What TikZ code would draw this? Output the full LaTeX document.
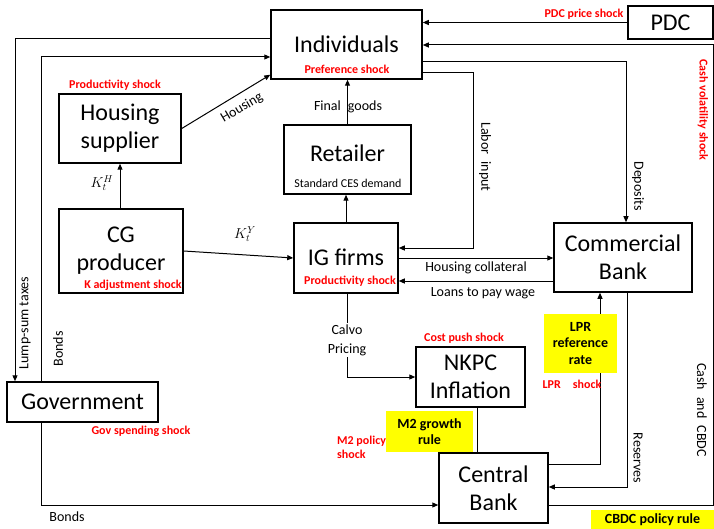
\documentclass[tikz,border=0pt]{standalone}
\usepackage{fontspec}
\setmainfont{Carlito}
\usetikzlibrary{arrows.meta,calc}
\definecolor{shockred}{RGB}{255,0,0}
\definecolor{hiyellow}{RGB}{255,255,0}
\tikzset{
  box/.style={draw,line width=1.5pt,align=center,inner sep=0pt,font=\fontsize{24}{28}\selectfont},
  conn/.style={line width=1pt},
  arr/.style={conn,-{Triangle[length=6pt,width=5pt]}},
  lbl/.style={font=\fontsize{14}{16}\selectfont,inner sep=1pt},
  small/.style={font=\fontsize{12}{14}\selectfont,inner sep=1pt},
  shock/.style={text=shockred,font=\fontsize{12}{14}\selectfont\bfseries,inner sep=1pt},
  ybox/.style={fill=hiyellow,align=center,inner sep=0pt,font=\fontsize{14}{16.5}\selectfont\bfseries}
}
\begin{document}
\begin{tikzpicture}[x=1pt,y=-1pt]
\useasboundingbox[fill=white] (0,0) rectangle (714,529);

% boxes
\node[box,minimum width=151pt,minimum height=69pt] (ind) at (346.5,44.5) {Individuals};
\node[box,minimum width=85pt,minimum height=33pt] (pdc) at (670.5,22.5) {PDC};
\node[box,minimum width=122pt,minimum height=69pt] (hs) at (120,128.5) {Housing\\supplier};
\node[box,minimum width=127pt,minimum height=69pt] (ret) at (347.5,159.5) {};
\node[box,minimum width=124pt,minimum height=84pt] (cg) at (121,251) {CG\\producer};
\node[box,minimum width=104pt,minimum height=70pt] (ig) at (346,258) {};
\node[box,minimum width=138pt,minimum height=69pt] (cb) at (623,257.5) {Commercial\\Bank};
\node[box,minimum width=151pt,minimum height=40pt] (gov) at (82.5,402) {Government};
\node[box,minimum width=109pt,minimum height=60pt] (nkpc) at (470.5,377) {NKPC\\Inflation};
\node[box,minimum width=109pt,minimum height=70pt] (centb) at (493.5,488) {Central\\Bank};

\node[font=\fontsize{24}{28}\selectfont,inner sep=0pt] (rett) at (347.5,153) {Retailer};
\node[small] (ces) at (348,183) {Standard CES demand};
\node[font=\fontsize{24}{28}\selectfont,inner sep=0pt] (igt) at (346,257) {IG firms};

% coordinates
\coordinate (cashb) at (713,505);
\coordinate (casht) at (713,45);
\coordinate (depc) at (626,62);
\coordinate (labc1) at (473,73);
\coordinate (labc2) at (473,248);
\coordinate (lumpc) at (15,39);
\coordinate (bondc) at (41,57);
\coordinate (bondd) at (41,505);
\coordinate (loanc) at (500,281);
\coordinate (lprc) at (600,464);
\coordinate (resc) at (627,487);
\coordinate (calc) at (347,377);
\coordinate (nkc) at (477,400);

% connectors
\draw[arr] (pdc.west) -- (pdc.west -| ind.east);
\draw[arr] (centb.east |- cashb) -- (cashb) -- (casht) -- (casht -| ind.east);
\draw[arr] (ind.east |- depc) -- (depc) -- (depc |- cb.north);
\draw[arr] (ind.east |- labc1) -- (labc1) -- (labc2) -- (labc2 -| ig.east);
\draw[arr] (ret.north) -- (ret.north |- ind.south);
\draw[arr] (ig.north) -- (ig.north |- ret.south);
\draw[arr] (hs.east) -- ($(ind.south west)+(0,-5)$);
\draw[arr] (hs.south |- cg.north) -- (hs.south);
\draw[arr] (cg.east) -- (ig.west);
\draw[arr] (ind.west |- lumpc) -- (lumpc) -- (lumpc |- gov.north);
\draw[arr] (bondc |- gov.north) -- (bondc) -- (bondc -| ind.west);
\draw[arr] (bondd |- gov.south) -- (bondd) -- (bondd -| centb.west);
\draw[arr] (ig.east) -- (ig.east -| cb.west);
\draw[arr] (loanc -| cb.west) -- (loanc -| ig.east);
\draw[arr] (centb.east |- lprc) -- (lprc) -- (lprc |- cb.south);
\draw[arr] (resc |- cb.south) -- (resc) -- (resc -| centb.east);
\draw[arr] (calc |- ig.south) -- (calc) -- (calc -| nkpc.west);
\draw[conn] (nkc |- nkpc.south) -- (nkc |- centb.north);

% yellow boxes
\node[ybox,minimum width=73pt,minimum height=59pt] (lpr) at (580.5,343.5) {LPR\\reference\\rate};
\node[ybox,minimum width=87pt,minimum height=41pt] (m2) at (429.5,431.5) {M2 growth\\rule};
\node[ybox,minimum width=123pt,minimum height=19pt] (cbdc) at (652.5,519.5) {CBDC policy rule};

% labels
\node[lbl,fill=white,align=center,font=\fontsize{14}{19}\selectfont] (calvo) at (347,340) {Calvo\\Pricing};
\node[lbl] (fg) at (348,107) {Final\enspace goods};
\node[lbl,rotate=30.5] (hl) at (242,108) {Housing};
\node[lbl,rotate=-90] (labl) at (485,157) {Labor\enspace input};
\node[lbl,rotate=-90] (depl) at (638,186) {Deposits};
\node[lbl] (hcl) at (476,268) {Housing collateral};
\node[lbl] (lwl) at (483,293) {Loans to pay wage};
\node[lbl,rotate=90] (lstl) at (25,323) {Lump-sum taxes};
\node[lbl,rotate=90] (bul) at (58,349) {Bonds};
\node[lbl] (bdl) at (67,517) {Bonds};
\node[lbl,rotate=-90] (resl) at (638,458) {Reserves};
\node[lbl,rotate=-90] (ccl) at (702,410) {Cash\enspace and\enspace CBDC};
\node[lbl] (khl) at (102,183) {$K_t^H$};
\node[lbl] (kyl) at (245,234) {$K_t^Y$};

% shocks
\node[shock] (s1) at (347,69) {Preference shock};
\node[shock] (s2) at (584,14) {PDC price shock};
\node[shock] (s3) at (115,85) {Productivity shock};
\node[shock,rotate=-90] (s4) at (703,110) {Cash volatility shock};
\node[shock] (s5) at (133,285) {K adjustment shock};
\node[shock] (s6) at (350,281) {Productivity shock};
\node[shock] (s7) at (464,338) {Cost push shock};
\node[shock] (s8) at (572,384) {LPR\enspace\enspace shock};
\node[shock] (s9) at (141,431) {Gov spending shock};
\node[shock,align=left,anchor=west] (s10) at (336,447.5) {M2 policy\\shock};
\end{tikzpicture}
\end{document}
